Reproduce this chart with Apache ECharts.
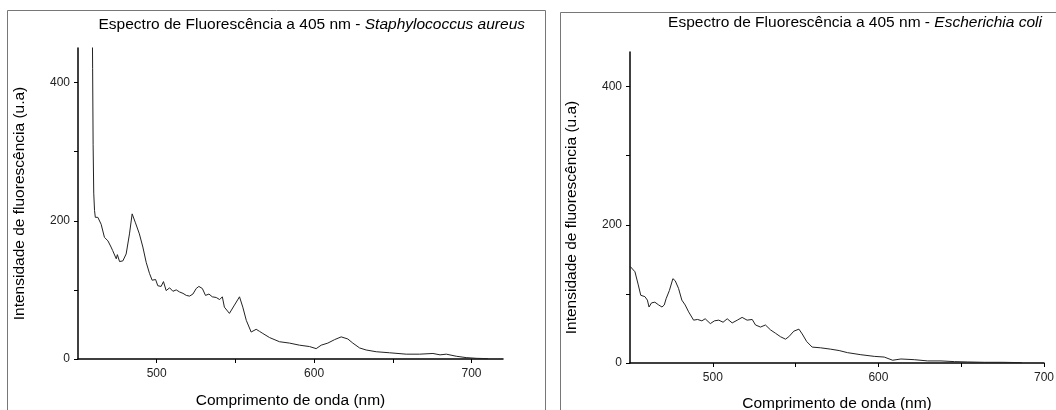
<!DOCTYPE html>
<html>
<head>
<meta charset="utf-8">
<script src="https://cdn.jsdelivr.net/npm/echarts@6/dist/echarts.min.js"></script>
<style>
  html, body { margin: 0; padding: 0; background: #fff; }
  #chart { width: 1056px; height: 410px; }
</style>
</head>
<body>
<div id="chart"></div>
<script>
// S. aureus: [comprimento de onda (nm), intensidade (u.a)]
var saureus = [
  [459, 520], [459.3, 420], [459.6, 310], [460, 240], [460.5, 215], [461, 205],
  [462.6, 205], [464.7, 195], [466.8, 176], [469, 171], [471, 162], [472, 157],
  [474.3, 145], [475, 151], [476.4, 141], [478.5, 142], [480.6, 152], [482.7, 181],
  [484.4, 210], [485.4, 210], [486.5, 197], [487.6, 199], [489, 181], [491.2, 162],
  [493.3, 140], [495.4, 124], [497.1, 114], [499.3, 115], [500.7, 106], [502.8, 105],
  [504.3, 112], [506, 99], [508.2, 103], [510.3, 98], [512.4, 100], [514.5, 97],
  [516.7, 95], [518.8, 92], [520.9, 91], [523, 94], [525.1, 102], [526.8, 105],
  [529, 102], [531, 92], [533.2, 94], [535.3, 90], [537.8, 89], [540, 86],
  [541.7, 90], [543, 75], [546.2, 66], [549.4, 78], [552.6, 90], [554.7, 75],
  [556.9, 56], [560, 39], [563.2, 43], [565.3, 40], [567.4, 37], [571.7, 31],
  [578, 25], [584.4, 23], [590.7, 20], [597.1, 18], [601.3, 15], [604.5, 20],
  [608.7, 23], [613, 28], [617.2, 32], [621.4, 29], [624.6, 23], [628.9, 16],
  [633.1, 13], [639.5, 10.5], [647.9, 9], [658.5, 7], [667, 7], [675.5, 8],
  [680, 6], [684, 7], [690.3, 4], [696.6, 2], [703, 1], [710.4, 0.5]
];
// E. coli
var ecoli = [
  [450, 140], [451, 138], [453, 132], [455, 113], [456.5, 98], [459, 96],
  [460.5, 91], [461.5, 81], [463, 87], [465, 88], [467.3, 84], [469.3, 81],
  [470.7, 84], [471.8, 93], [473.8, 105], [475.9, 122], [477.3, 119], [479.3, 108],
  [481.3, 91], [483.3, 84], [485.4, 74], [488.4, 62], [490.8, 63], [493.4, 61],
  [495.4, 64], [498.5, 57], [501, 61], [503.6, 62], [506.2, 59], [508.7, 64],
  [511.7, 58], [514.8, 62], [517.7, 66], [520.7, 62], [523.8, 63], [525.8, 55],
  [528.8, 52], [531.8, 55], [534.8, 48], [537.9, 43], [540.9, 38], [543.9, 34.5],
  [545.9, 38], [548.9, 46], [552, 49], [554, 42], [556.7, 31], [560, 23],
  [565, 22], [571.2, 20], [576.3, 18], [581.3, 15], [589.4, 12], [597.5, 9.6],
  [603.5, 8.6], [608.6, 4], [613.6, 5.8], [621.7, 4.8], [629.8, 3], [637.8, 3],
  [645.9, 2], [654, 1.5], [664, 1], [675, 1], [686.6, 0.5]
];
var xTicks = [500, 550, 600, 650, 700];
var xLabels = [500, 600, 700];
var yTicks = [0, 100, 200, 300, 400];
var yLabels = [0, 200, 400];

var font = '"Liberation Sans", Arial, sans-serif';

function xAxisOf(idx, max, gap) {
  return {
    type: 'value', gridIndex: idx, min: 450, max: max, interval: 50,
    name: 'Comprimento de onda (nm)', nameLocation: 'middle', nameGap: gap,
    nameTextStyle: { fontFamily: font, fontSize: 15.5, color: '#000' },
    splitLine: { show: false },
    axisLine: { lineStyle: { color: '#000', width: 1.5 } },
    axisTick: { inside: false, length: 4, customValues: xTicks, lineStyle: { color: '#000' } },
    axisLabel: { customValues: xLabels, fontFamily: font, fontSize: 12, color: '#222', margin: 9 }
  };
}
function yAxisOf(idx, pad) {
  return {
    type: 'value', gridIndex: idx, min: 0, max: 450, interval: 100,
    name: 'Intensidade de fluorescência (u.a)', nameLocation: 'middle', nameGap: 50,
    nameTextStyle: { fontFamily: font, fontSize: 15.5, color: '#000', padding: pad },
    splitLine: { show: false },
    axisLine: { show: true, lineStyle: { color: '#000', width: 1.5 } },
    axisTick: { show: true, length: 4, customValues: yTicks, lineStyle: { color: '#000' } },
    axisLabel: { customValues: yLabels, fontFamily: font, fontSize: 12, color: '#222', margin: 8 }
  };
}

var chart = echarts.init(document.getElementById('chart'));
var option = {
  animation: false,
  backgroundColor: '#fff',
  title: [
    {
      text: 'Espectro de Fluorescência a 405 nm - {i|Staphylococcus aureus}',
      right: 531, top: 17, padding: 0,
      textStyle: { fontFamily: font, fontSize: 15.5, fontWeight: 'normal', color: '#000',
        rich: { i: { fontFamily: font, fontSize: 15.5, fontStyle: 'italic', color: '#000' } } }
    },
    {
      text: 'Espectro de Fluorescência a 405 nm - {i|Escherichia coli}',
      right: 14, top: 15, padding: 0,
      textStyle: { fontFamily: font, fontSize: 15.5, fontWeight: 'normal', color: '#000',
        rich: { i: { fontFamily: font, fontSize: 15.5, fontStyle: 'italic', color: '#000' } } }
    }
  ],
  graphic: [
    { type: 'rect', shape: { x: 7.5, y: 10.5, width: 538, height: 420 }, style: { fill: 'none', stroke: '#777', lineWidth: 1 } },
    { type: 'rect', shape: { x: 560.5, y: 12.5, width: 520, height: 420 }, style: { fill: 'none', stroke: '#777', lineWidth: 1 } }
  ],
  grid: [
    { left: 78, top: 48, right: 553, bottom: 51, outerBoundsMode: 'none', containLabel: false },
    { left: 630, top: 52, right: 12, bottom: 47, outerBoundsMode: 'none', containLabel: false }
  ],
  xAxis: [xAxisOf(0, 720, 34), xAxisOf(1, 700, 33)],
  yAxis: [yAxisOf(0, 0), yAxisOf(1, [0, 20, 0, 0])],
  series: [
    {
      type: 'line', xAxisIndex: 0, yAxisIndex: 0, data: saureus,
      showSymbol: false, clip: true,
      lineStyle: { color: '#222', width: 1 }
    },
    {
      type: 'line', xAxisIndex: 1, yAxisIndex: 1, data: ecoli,
      showSymbol: false, clip: true,
      lineStyle: { color: '#222', width: 1 }
    }
  ]
};
chart.setOption(option);
</script>
</body>
</html>
